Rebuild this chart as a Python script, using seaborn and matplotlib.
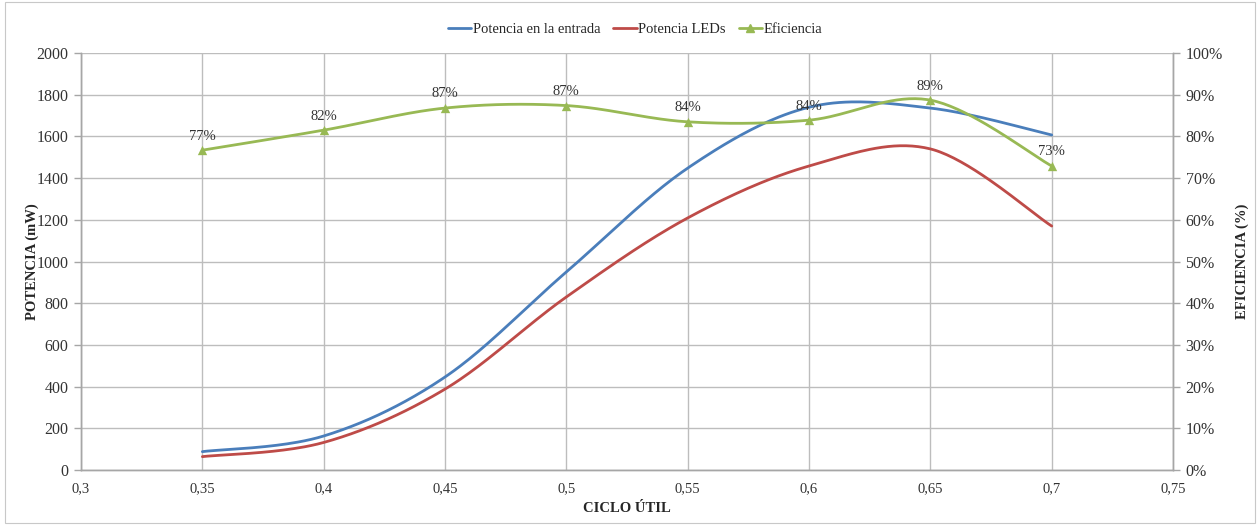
import numpy as np
import pandas as pd
import matplotlib
matplotlib.use("Agg")
import matplotlib.pyplot as plt
from matplotlib.ticker import FuncFormatter, MultipleLocator
from matplotlib.lines import Line2D
from matplotlib.patches import Rectangle
import seaborn as sns

# Duty cycle and measured values
ciclo = [0.35, 0.40, 0.45, 0.50, 0.55, 0.60, 0.65, 0.70]
potencia_entrada = [88, 163, 446, 950, 1448, 1740, 1736, 1607]
potencia_leds = [64, 132, 388, 830, 1209, 1458, 1540, 1170]
eficiencia = [0.767, 0.815, 0.868, 0.874, 0.835, 0.839, 0.887, 0.729]

x_ticks = [0.30, 0.35, 0.40, 0.45, 0.50, 0.55, 0.60, 0.65, 0.70, 0.75]

BLUE = "#4a7ebb"
RED = "#be4b48"
GREEN = "#98b954"
GRID = "#bdbdbd"


def smooth(x, y, n=40):
    """Cardinal (Catmull-Rom) Bezier smoothing between consecutive points."""
    x = np.asarray(x, float)
    y = np.asarray(y, float)
    xs, ys = [], []
    for i in range(len(x) - 1):
        p0 = np.array([x[max(i - 1, 0)], y[max(i - 1, 0)]])
        p1 = np.array([x[i], y[i]])
        p2 = np.array([x[i + 1], y[i + 1]])
        p3 = np.array([x[min(i + 2, len(x) - 1)], y[min(i + 2, len(x) - 1)]])
        c1 = p1 + (p2 - p0) / 6.0
        c2 = p2 - (p3 - p1) / 6.0
        t = np.linspace(0, 1, n, endpoint=(i == len(x) - 2))[:, None]
        pts = ((1 - t) ** 3) * p1 + 3 * ((1 - t) ** 2) * t * c1 + 3 * (1 - t) * t ** 2 * c2 + t ** 3 * p2
        xs.append(pts[:, 0])
        ys.append(pts[:, 1])
    return np.concatenate(xs), np.concatenate(ys)


sns.set_theme(style="white")
plt.rcParams["font.family"] = ["Liberation Serif", "DejaVu Serif"]
plt.rcParams["font.size"] = 10

fig = plt.figure(figsize=(12.6, 5.25), dpi=100)
ax = fig.add_axes([0.0643, 0.1048, 0.8667, 0.7942])
ax2 = ax.twinx()

# chart frame
fig.patches.append(Rectangle((0.004, 0.004), 0.992, 0.992, transform=fig.transFigure,
                             fill=False, edgecolor="#c8c8c8", linewidth=0.8))

ax.set_xlim(0.3, 0.75)
ax.set_ylim(0, 2000)
ax2.set_ylim(0, 1.0)

xs, ys = smooth(ciclo, potencia_entrada)
sns.lineplot(x=xs, y=ys, ax=ax, color=BLUE, linewidth=2, sort=False, estimator=None)
xs, ys = smooth(ciclo, potencia_leds)
sns.lineplot(x=xs, y=ys, ax=ax, color=RED, linewidth=2, sort=False, estimator=None)
xs, ys = smooth(ciclo, eficiencia)
sns.lineplot(x=xs, y=ys, ax=ax2, color=GREEN, linewidth=2, sort=False, estimator=None)
sns.scatterplot(x=ciclo, y=eficiencia, ax=ax2, color=GREEN, marker="^", s=45,
                edgecolor=GREEN, linewidth=0, zorder=5)

for xv, ev in zip(ciclo, eficiencia):
    ax2.annotate(f"{round(ev * 100):.0f}%", (xv, ev), xytext=(0, 5.5),
                 textcoords="offset points", ha="center", va="bottom",
                 fontsize=10.5, color="#333333")

# grid
ax.yaxis.set_major_locator(MultipleLocator(200))
ax2.yaxis.set_major_locator(MultipleLocator(0.1))
ax.set_xticks(x_ticks)
ax.xaxis.set_major_formatter(FuncFormatter(lambda v, p: f"{v:g}".replace(".", ",")))
ax2.yaxis.set_major_formatter(FuncFormatter(lambda v, p: f"{v * 100:.0f}%"))
ax.grid(True, color=GRID, linewidth=1)
ax.set_axisbelow(True)
ax2.grid(False)

for a in (ax, ax2):
    for s in a.spines.values():
        s.set_color("#a6a6a6")
        s.set_linewidth(1)
    a.spines["top"].set_visible(False)
ax.tick_params(axis="x", length=5, width=1, color="#a6a6a6", labelsize=10.5,
               labelcolor="#333333", direction="out", pad=4)
ax.tick_params(axis="y", length=5, width=1, color="#a6a6a6", labelsize=11.5,
               labelcolor="#333333", direction="out", pad=4)
ax2.tick_params(axis="y", length=5, width=1, color="#a6a6a6", labelsize=11.5,
                labelcolor="#333333", direction="out", pad=4)

ax.set_xlabel("CICLO ÚTIL", fontsize=10.5, fontweight="bold", labelpad=5)
ax.set_ylabel("POTENCIA (mW)", fontsize=10.5, fontweight="bold", labelpad=-2)
ax2.set_ylabel("EFICIENCIA (%)", fontsize=10.5, fontweight="bold", labelpad=9)

handles = [
    Line2D([], [], color=BLUE, linewidth=2),
    Line2D([], [], color=RED, linewidth=2),
    Line2D([], [], color=GREEN, linewidth=2, marker="^", markersize=6),
]
labels = ["Potencia en la entrada", "Potencia LEDs", "Eficiencia"]
fig.legend(handles, labels, loc="center", bbox_to_anchor=(0.504, 0.944), ncol=3,
           frameon=False, fontsize=10.5, handlelength=1.6, handletextpad=0.1,
           columnspacing=0.9)

fig.savefig("out.png", dpi=100)
